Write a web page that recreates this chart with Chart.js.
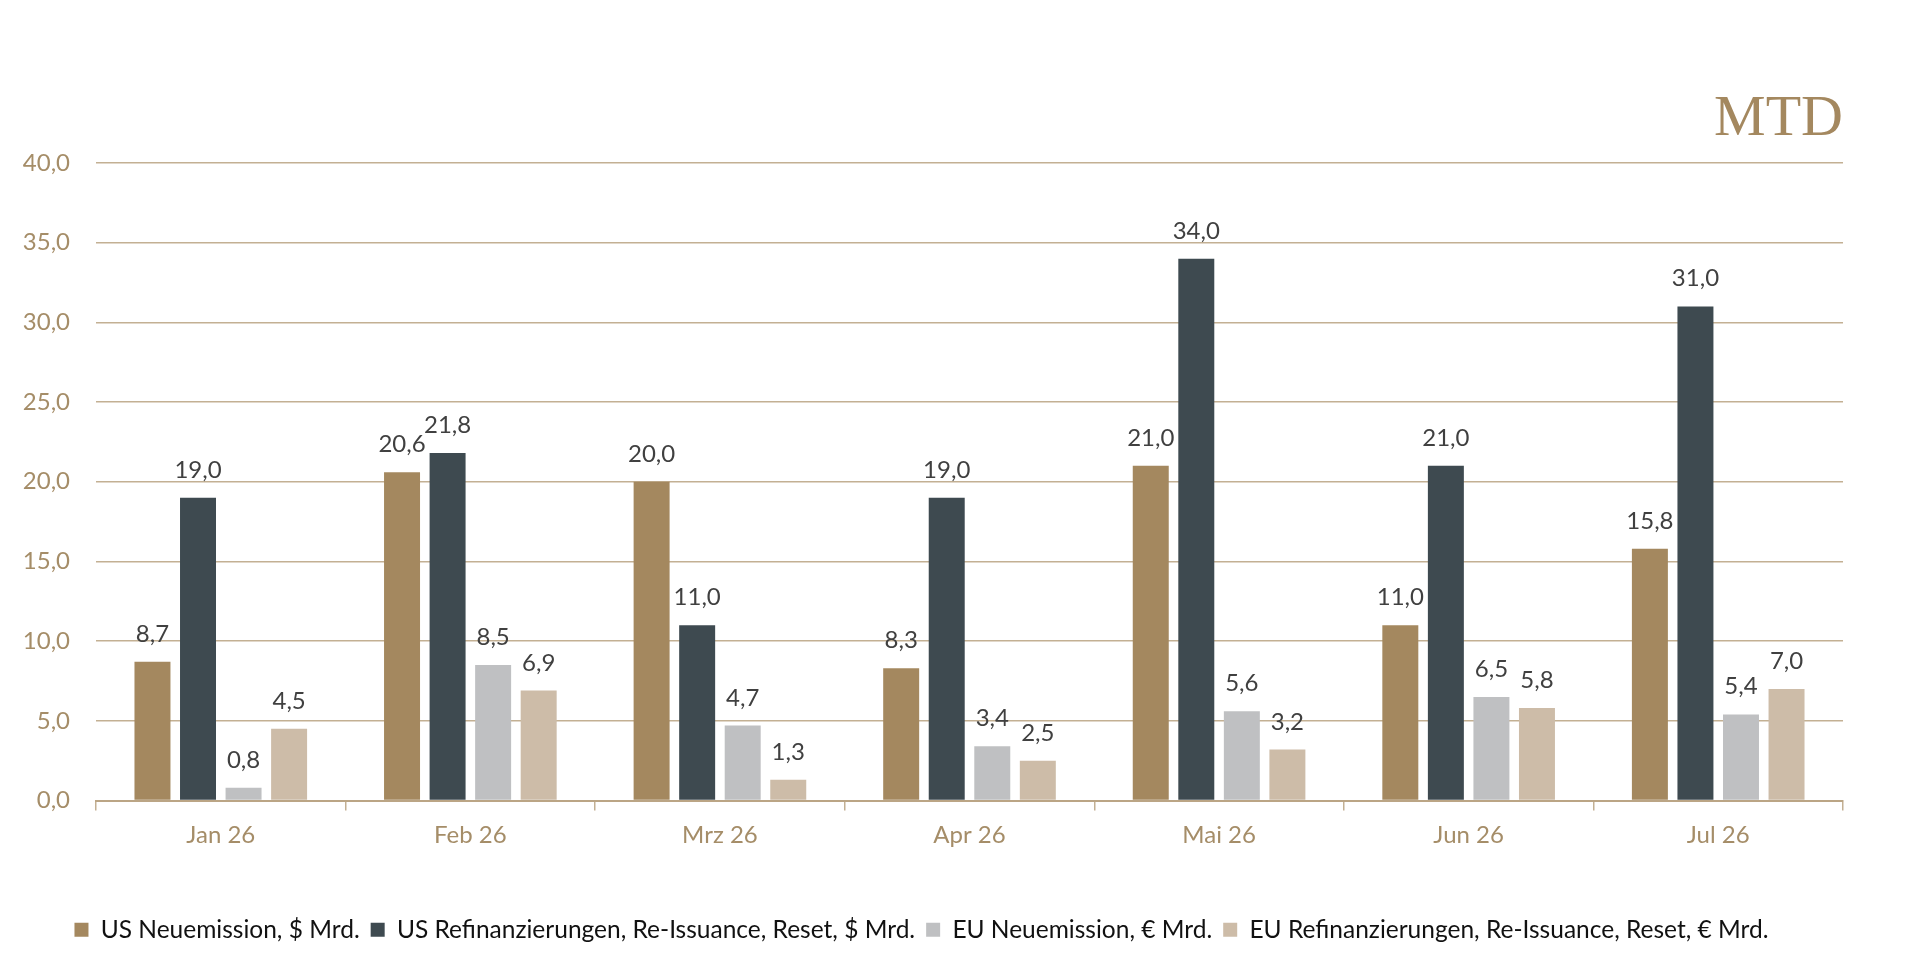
<!DOCTYPE html>
<html>
<head>
<meta charset="utf-8">
<script src="https://cdn.jsdelivr.net/npm/chart.js@4"></script>
<style>
  html, body { margin: 0; padding: 0; background: #fff; }
  #wrap { width: 1920px; height: 975px; }
</style>
</head>
<body>
<div id="wrap"><canvas id="issuanceChart"></canvas></div>
<script>
const months = ['Jan 26', 'Feb 26', 'Mrz 26', 'Apr 26', 'Mai 26', 'Jun 26', 'Jul 26'];
const seriesNames = [
    'US Neuemission, $ Mrd.',
    'US Refinanzierungen, Re-Issuance, Reset, $ Mrd.',
    'EU Neuemission, € Mrd.',
    'EU Refinanzierungen, Re-Issuance, Reset, € Mrd.'
];
const usNew = [8.7, 20.6, 20.0, 8.3, 21.0, 11.0, 15.8];
const usRefi = [19.0, 21.8, 11.0, 19.0, 34.0, 21.0, 31.0];
const euNew = [0.8, 8.5, 4.7, 3.4, 5.6, 6.5, 5.4];
const euRefi = [4.5, 6.9, 1.3, 2.5, 3.2, 5.8, 7.0];
const seriesColors = ['#A4885F', '#3E4A50', '#BFC0C2', '#CDBCA8'];

const gold = '#A58D68';
const gridTan = '#C3B093';
const fontFamily = 'Lato, "Open Sans", sans-serif';

const fmt = v => v.toFixed(1).replace('.', ',');

// value labels above each bar
const valueLabels = {
    id: 'valueLabels',
    afterDatasetsDraw(chart) {
        const ctx = chart.ctx;
        ctx.save();
        ctx.font = '24px ' + fontFamily;
        ctx.fillStyle = '#404040';
        ctx.textAlign = 'center';
        ctx.textBaseline = 'alphabetic';
        chart.data.datasets.forEach((ds, i) => {
            chart.getDatasetMeta(i).data.forEach((bar, j) => {
                ctx.fillText(fmt(ds.data[j]), bar.x, bar.y - 20);
            });
        });
        ctx.restore();
    }
};

// "MTD" mark top right
const mtdMark = {
    id: 'mtdMark',
    afterDraw(chart) {
        const ctx = chart.ctx;
        ctx.save();
        ctx.font = '58px "Liberation Serif", "DejaVu Serif", serif';
        ctx.fillStyle = '#A4885F';
        ctx.textAlign = 'right';
        ctx.textBaseline = 'alphabetic';
        ctx.fillText('MTD', chart.chartArea.right, 135);
        ctx.restore();
    }
};

const allSeries = [usNew, usRefi, euNew, euRefi];

new Chart(document.getElementById('issuanceChart'), {
    type: 'bar',
    data: {
        labels: months,
        datasets: allSeries.map((vals, i) => ({
            label: seriesNames[i],
            data: vals,
            backgroundColor: seriesColors[i],
            borderWidth: 0,
            categoryPercentage: 0.73,
            barPercentage: 0.79
        }))
    },
    options: {
        responsive: true,
        maintainAspectRatio: false,
        animation: false,
        layout: {
            padding: { top: 163, right: 77, bottom: 23, left: 0 }
        },
        plugins: {
            legend: {
                position: 'bottom',
                labels: {
                    boxWidth: 14,
                    boxHeight: 14,
                    padding: 11,
                    color: '#111',
                    font: { family: fontFamily, size: 24.5 }
                }
            },
            tooltip: { enabled: false }
        },
        scales: {
            x: {
                grid: {
                    drawOnChartArea: false,
                    drawTicks: true,
                    tickLength: 10,
                    color: gridTan,
                    lineWidth: 1.5
                },
                border: { display: true, color: '#BBA585', width: 2 },
                ticks: {
                    color: gold,
                    padding: 10,
                    font: { family: fontFamily, size: 24 }
                },
                afterFit(scale) {
                    scale.height = 106;
                }
            },
            y: {
                min: 0,
                max: 40,
                grid: {
                    color: gridTan,
                    lineWidth: 1.5,
                    drawTicks: false
                },
                border: { display: false },
                ticks: {
                    stepSize: 5,
                    color: gold,
                    padding: 26,
                    font: { family: fontFamily, size: 24 },
                    callback: v => fmt(v)
                },
                afterFit(scale) {
                    scale.width = 96;
                }
            }
        }
    },
    plugins: [valueLabels, mtdMark]
});
</script>
</body>
</html>
